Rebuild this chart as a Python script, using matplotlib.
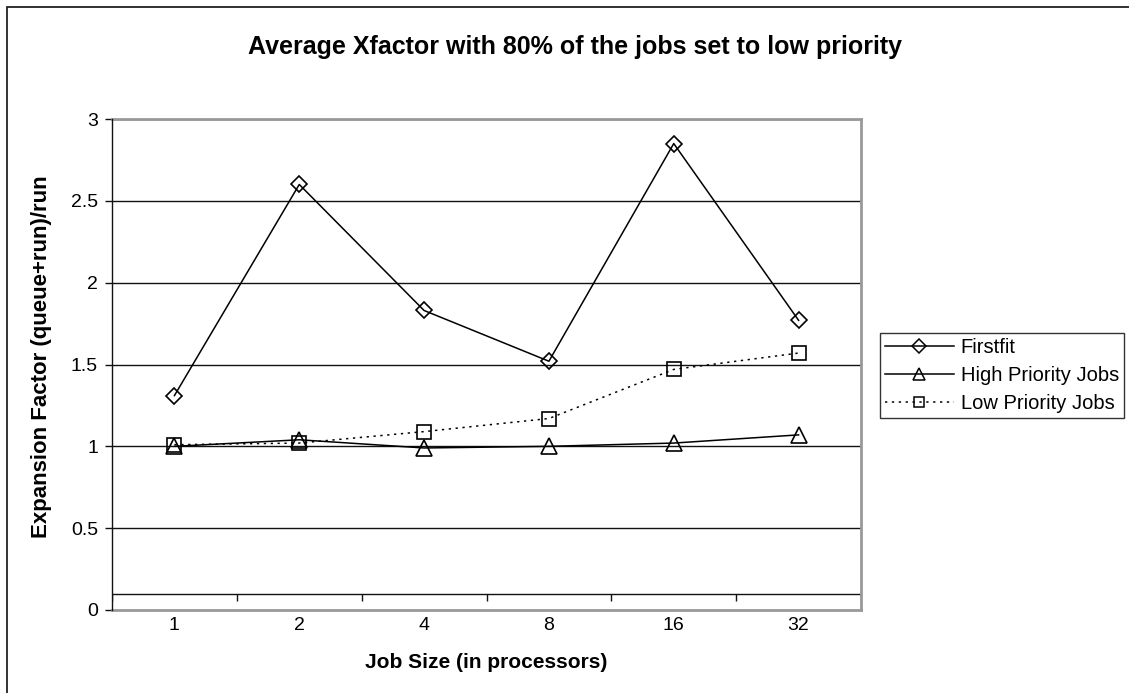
import matplotlib
matplotlib.use("Agg")
import matplotlib.pyplot as plt
from matplotlib.lines import Line2D
from matplotlib.patches import Rectangle
import numpy as np

plt.rcParams['font.family'] = ['Liberation Sans', 'DejaVu Sans']

categories = ["1", "2", "4", "8", "16", "32"]
firstfit = [1.31, 2.60, 1.83, 1.52, 2.85, 1.77]
high_priority = [1.00, 1.04, 0.99, 1.00, 1.02, 1.07]
low_priority = [1.01, 1.02, 1.09, 1.17, 1.47, 1.57]
yticks = [0, 0.5, 1, 1.5, 2, 2.5, 3]
AXIS_CROSS = 0.1

title = "Average Xfactor with 80% of the jobs set to low priority"
xlabel = "Job Size (in processors)"
ylabel = "Expansion Factor (queue+run)/run"

W, H = 1129, 693
fig = plt.figure(figsize=(W / 100, H / 100), dpi=100)
fig.patch.set_facecolor('white')

# chart-area border (left/top visible, rest clipped off)
fig.patches.append(Rectangle((7 / W, -0.5), 2, 1.5 - 7 / H, transform=fig.transFigure,
                             fill=False, edgecolor='#222222', linewidth=1.3, figure=fig))

L, R, T, B = 112, 861, 119, 610
ax = fig.add_axes([L / W, 1 - B / H, (R - L) / W, (B - T) / H])

x = np.arange(len(categories))
ax.set_xlim(-0.5, len(categories) - 0.5)
ax.set_ylim(0, 3)

# gridlines
for yv in yticks[1:]:
    ax.axhline(yv, color='#111111', linewidth=1.0, zorder=1)
# category axis crossing line
ax.axhline(AXIS_CROSS, color='#111111', linewidth=1.0, zorder=1)
tick_drop = 7 / 163.5
ax.vlines(np.arange(len(categories) + 1) - 0.5, AXIS_CROSS - tick_drop, AXIS_CROSS,
          color='#111111', linewidth=1.0, zorder=1)

for s in ['top', 'right', 'bottom']:
    ax.spines[s].set_color('#999999')
    ax.spines[s].set_linewidth(2.0)
ax.spines['left'].set_color('#111111')
ax.spines['left'].set_linewidth(1.0)
ax.spines['left'].set_zorder(5)

common = dict(color='black', linewidth=1.1, markerfacecolor='none',
              markeredgecolor='black', markeredgewidth=1.2, clip_on=False, zorder=4)
ax.plot(x, firstfit, marker='D', markersize=8.5, linestyle='-', **common)
ax.plot(x, high_priority, marker='^', markersize=11, linestyle='-', **common)
ax.plot(x, low_priority, marker='s', markersize=10.5, linestyle=(0, (1.5, 3)), **common)

ax.set_xticks(x)
ax.set_xticklabels(categories)
ax.set_yticks(yticks)
ax.set_yticklabels([f"{v:g}" for v in yticks])
ax.tick_params(axis='x', length=0, pad=5, labelsize=14)
ax.tick_params(axis='y', length=5, width=1.0, color='#111111', pad=5, labelsize=14)

fig.text(575 / W, 1 - 47 / H, title, ha='center', va='center',
         fontsize=18, fontweight='bold')
fig.text(486 / W, 1 - 662 / H, xlabel, ha='center', va='center',
         fontsize=15, fontweight='bold')
fig.text(42 / W, 1 - 357 / H, ylabel, ha='center', va='center', rotation=90,
         fontsize=16, fontweight='bold')

lcommon = dict(color='black', linewidth=1.1, markerfacecolor='none',
               markeredgecolor='black', markeredgewidth=1.1)
handles = [
    Line2D([], [], marker='D', markersize=7, linestyle='-', **lcommon),
    Line2D([], [], marker='^', markersize=9, linestyle='-', **lcommon),
    Line2D([], [], marker='s', markersize=7.5, linestyle=(0, (1.5, 3)), **lcommon),
]
labels = ["Firstfit", "High Priority Jobs", "Low Priority Jobs"]
leg = fig.legend(handles, labels, loc='upper left',
                 bbox_to_anchor=(880 / W, 1 - 333 / H), fontsize=14.5,
                 frameon=True, fancybox=False, edgecolor='black',
                 handlelength=3.4, handletextpad=0.35, borderpad=0.25,
                 labelspacing=0.45, borderaxespad=0)
leg.get_frame().set_linewidth(1.0)

fig.savefig("out.png", dpi=100)
